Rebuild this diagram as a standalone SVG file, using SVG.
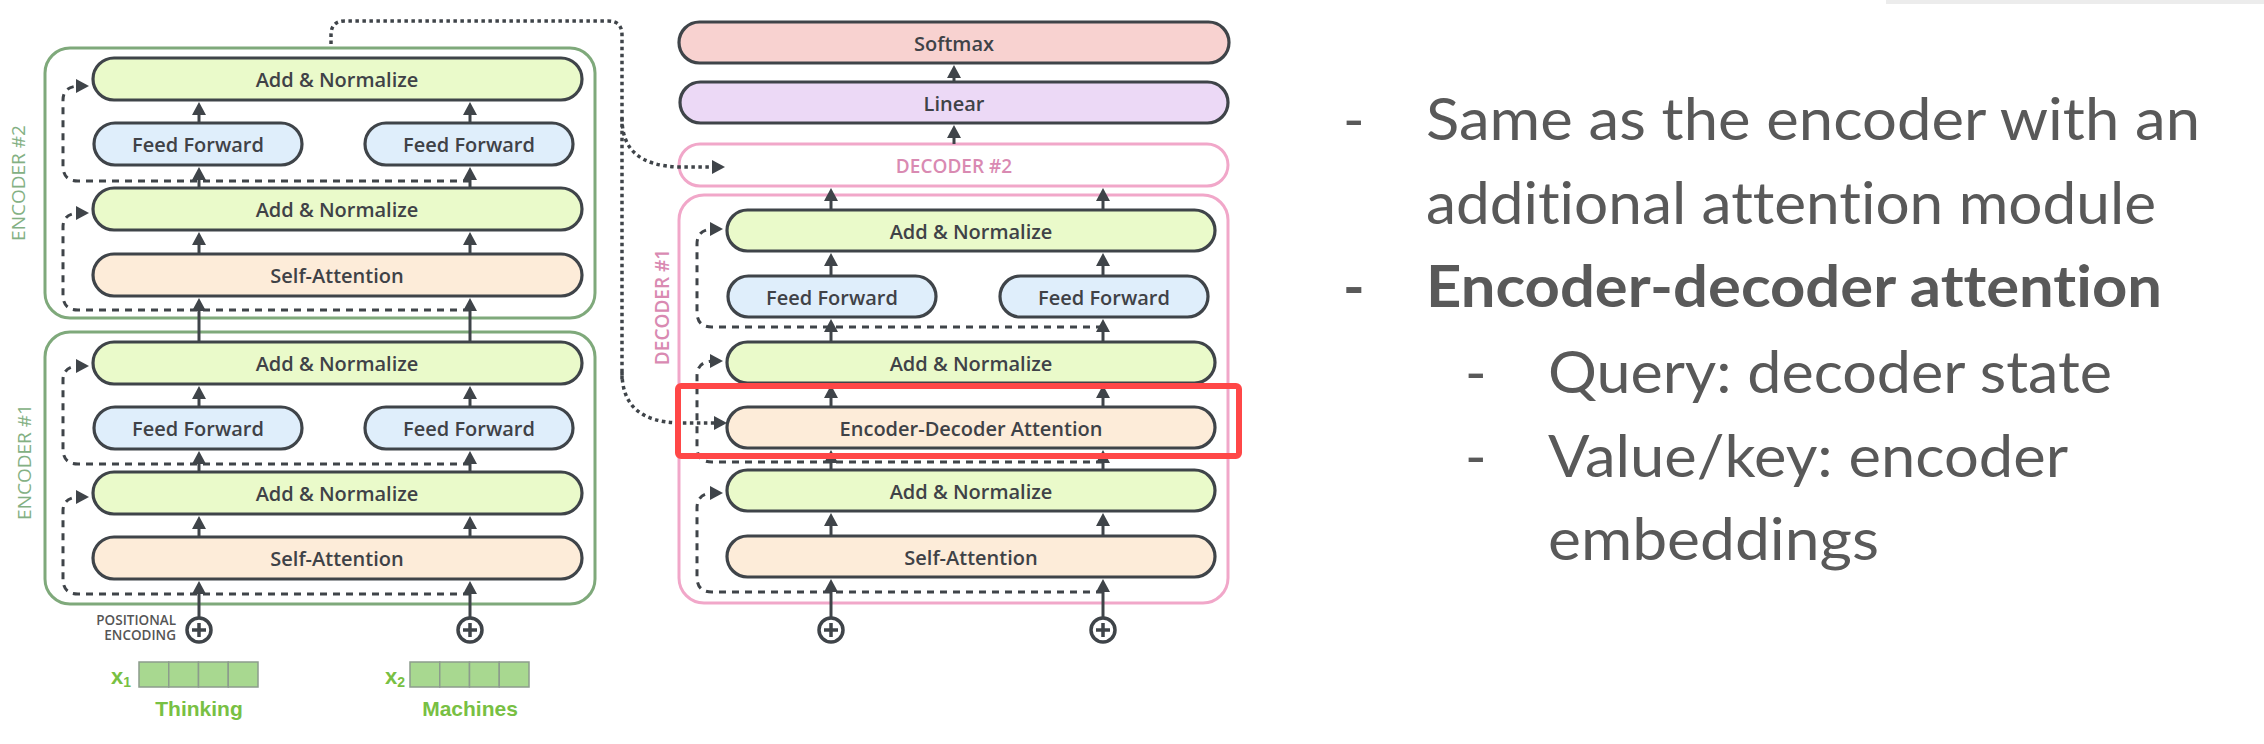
<svg xmlns="http://www.w3.org/2000/svg" width="2264" height="744" viewBox="0 0 2264 744">
<style>
.box{stroke:#3f4449;stroke-width:3.2}
.an{fill:#eafaca}
.ff{fill:#dfeefb}
.sa{fill:#fdecd9}
.sm{fill:#f8d2d0}
.ln{fill:#ecd9f6}
.lbl{font-family:"Open Sans","Noto Sans",sans-serif;font-size:20px;font-weight:600;fill:#3f4247;text-anchor:middle;dominant-baseline:central}
.encb{fill:none;stroke:#7fa97b;stroke-width:3}
.decb{fill:none;stroke:#f1a7c9;stroke-width:3}
.enct{font-family:"Open Sans","Noto Sans",sans-serif;font-size:19px;fill:#83b083;text-anchor:middle;dominant-baseline:central}
.dect{font-family:"Open Sans","Noto Sans",sans-serif;font-size:19px;font-weight:600;fill:#d98ab2;text-anchor:middle;dominant-baseline:central}
.sol{fill:none;stroke:#3f4449;stroke-width:3;marker-end:url(#ah)}
.dash{fill:none;stroke:#3f4449;stroke-width:3;stroke-dasharray:7 6;marker-end:url(#ah)}
.dot{fill:none;stroke:#3f4449;stroke-width:3.5;stroke-dasharray:3.5 3.5}
.dotA{fill:none;stroke:#3f4449;stroke-width:3.5;stroke-dasharray:3.5 3.5;marker-end:url(#ah)}
.plus circle{fill:#fff;stroke:#3f4449;stroke-width:3.5}
.plus path{stroke:#3f4449;stroke-width:3.5}
.cell{fill:#a8d890;stroke:#8c9c8c;stroke-width:1.5}
.word{font-family:"Liberation Sans",Arial,sans-serif;font-weight:bold;font-size:21px;fill:#78c043;text-anchor:middle}
.xl{font-family:"Liberation Sans",Arial,sans-serif;font-weight:bold;font-size:22px;fill:#78c043}
.pe{font-family:"Open Sans","Noto Sans",sans-serif;font-size:13.5px;font-weight:600;fill:#555;text-anchor:end}
.bt{font-family:Lato,"Open Sans",sans-serif;font-size:58px;fill:#595959;font-variant-ligatures:none;font-feature-settings:"liga" 0}
.bb{font-weight:bold}
</style>
<defs>
<marker id="ah" viewBox="0 0 14 14" refX="4" refY="7" markerWidth="14" markerHeight="14" markerUnits="userSpaceOnUse" orient="auto">
<path d="M0,0 L13,7 L0,14 z" fill="#3f4449"/>
</marker>
</defs>
<rect width="2264" height="744" fill="#fff"/>
<rect x="1886" y="0" width="378" height="4" fill="#ececec"/>

<g id="encoder2">
<rect class="encb" x="45" y="48" width="550" height="270" rx="25"/>
<text class="enct" transform="translate(18,183) rotate(-90)">ENCODER #2</text>
</g>
<g id="encoder1">
<rect class="encb" x="45" y="332" width="550" height="272" rx="25"/>
<text class="enct" transform="translate(24,462) rotate(-90)">ENCODER #1</text>
</g>
<g id="decoder2">
<rect class="decb" x="679" y="144" width="549" height="42" rx="21" fill="#fff"/>
<text class="dect" x="954" y="166">DECODER #2</text>
</g>
<g id="decoder1">
<rect class="decb" x="679" y="195" width="549" height="408" rx="25"/>
<text class="dect" transform="translate(662,307) rotate(-90)">DECODER #1</text>
</g>

<g id="connectors">
<path class="sol" d="M199 617 V590"/>
<path class="sol" d="M470 617 V590"/>
<path class="sol" d="M199 537 V525"/>
<path class="sol" d="M470 537 V525"/>
<path class="sol" d="M199 472 V460"/>
<path class="sol" d="M470 472 V460"/>
<path class="sol" d="M199 407 V395"/>
<path class="sol" d="M470 407 V395"/>
<path class="sol" d="M199 342 V307"/>
<path class="sol" d="M470 342 V307"/>
<path class="sol" d="M199 254 V241"/>
<path class="sol" d="M470 254 V241"/>
<path class="sol" d="M199 188 V176"/>
<path class="sol" d="M470 188 V176"/>
<path class="sol" d="M199 123 V111"/>
<path class="sol" d="M470 123 V111"/>
<path class="dash" d="M470 181 H78 Q63 181 63 166 V100 Q63 86 80 86"/>
<path class="dash" d="M470 310 H78 Q63 310 63 295 V227 Q63 213 80 213"/>
<path class="dash" d="M470 464 H78 Q63 464 63 449 V380 Q63 366 80 366"/>
<path class="dash" d="M470 594 H78 Q63 594 63 579 V511 Q63 497 80 497"/>
<path class="sol" d="M831 617 V588"/>
<path class="sol" d="M1103 617 V588"/>
<path class="sol" d="M831 536 V522"/>
<path class="sol" d="M1103 536 V522"/>
<path class="sol" d="M831 470 V459"/>
<path class="sol" d="M1103 470 V459"/>
<path class="sol" d="M831 407 V394"/>
<path class="sol" d="M1103 407 V394"/>
<path class="sol" d="M831 342 V328"/>
<path class="sol" d="M1103 342 V328"/>
<path class="sol" d="M831 276 V262"/>
<path class="sol" d="M1103 276 V262"/>
<path class="sol" d="M831 210 V197"/>
<path class="sol" d="M1103 210 V197"/>
<path class="sol" d="M954 144 V134"/>
<path class="sol" d="M954 82 V74"/>
<path class="dash" d="M1103 327 H712 Q697 327 697 312 V244 Q697 229 714 229"/>
<path class="dash" d="M1103 462 H712 Q697 462 697 447 V376 Q697 361 714 361"/>
<path class="dash" d="M1103 592 H712 Q697 592 697 577 V508 Q697 493 714 493"/>
<path class="dot" d="M331 44 V35 Q331 21 345 21 H608 Q622 21 622 35 V380"/>
<path class="dotA" d="M622 118 C622 150 640 166 680 167 H716"/>
<path class="dotA" d="M622 372 C622 405 640 422 680 423 H718"/>
</g>

<g id="enc2-addnorm-top"><rect class="box an" x="93" y="58" width="489" height="42" rx="21"/><text class="lbl" x="337" y="79">Add &amp; Normalize</text></g>
<g id="enc2-ff1"><rect class="box ff" x="94" y="123" width="208" height="42" rx="21"/><text class="lbl" x="198" y="144">Feed Forward</text></g>
<g id="enc2-ff2"><rect class="box ff" x="365" y="123" width="208" height="42" rx="21"/><text class="lbl" x="469" y="144">Feed Forward</text></g>
<g id="enc2-addnorm"><rect class="box an" x="93" y="188" width="489" height="42" rx="21"/><text class="lbl" x="337" y="209">Add &amp; Normalize</text></g>
<g id="enc2-selfattn"><rect class="box sa" x="93" y="254" width="489" height="42" rx="21"/><text class="lbl" x="337" y="275">Self-Attention</text></g>

<g id="enc1-addnorm-top"><rect class="box an" x="93" y="342" width="489" height="42" rx="21"/><text class="lbl" x="337" y="363">Add &amp; Normalize</text></g>
<g id="enc1-ff1"><rect class="box ff" x="94" y="407" width="208" height="42" rx="21"/><text class="lbl" x="198" y="428">Feed Forward</text></g>
<g id="enc1-ff2"><rect class="box ff" x="365" y="407" width="208" height="42" rx="21"/><text class="lbl" x="469" y="428">Feed Forward</text></g>
<g id="enc1-addnorm"><rect class="box an" x="93" y="472" width="489" height="42" rx="21"/><text class="lbl" x="337" y="493">Add &amp; Normalize</text></g>
<g id="enc1-selfattn"><rect class="box sa" x="93" y="537" width="489" height="42" rx="21"/><text class="lbl" x="337" y="558">Self-Attention</text></g>

<g id="softmax"><rect class="box sm" x="679" y="22" width="550" height="41" rx="20.5"/><text class="lbl" x="954" y="43">Softmax</text></g>
<g id="linear"><rect class="box ln" x="680" y="82" width="548" height="41" rx="20.5"/><text class="lbl" x="954" y="103">Linear</text></g>

<g id="dec1-addnorm-top"><rect class="box an" x="727" y="210" width="488" height="41" rx="20.5"/><text class="lbl" x="971" y="231">Add &amp; Normalize</text></g>
<g id="dec1-ff1"><rect class="box ff" x="728" y="276" width="208" height="41" rx="20.5"/><text class="lbl" x="832" y="297">Feed Forward</text></g>
<g id="dec1-ff2"><rect class="box ff" x="1000" y="276" width="208" height="41" rx="20.5"/><text class="lbl" x="1104" y="297">Feed Forward</text></g>
<g id="dec1-addnorm2"><rect class="box an" x="727" y="342" width="488" height="41" rx="20.5"/><text class="lbl" x="971" y="363">Add &amp; Normalize</text></g>
<g id="dec1-encdec"><rect class="box sa" x="727" y="407" width="488" height="41" rx="20.5"/><text class="lbl" x="971" y="428">Encoder-Decoder Attention</text></g>
<g id="dec1-addnorm3"><rect class="box an" x="727" y="470" width="488" height="41" rx="20.5"/><text class="lbl" x="971" y="491">Add &amp; Normalize</text></g>
<g id="dec1-selfattn"><rect class="box sa" x="727" y="536" width="488" height="41" rx="20.5"/><text class="lbl" x="971" y="557">Self-Attention</text></g>

<g id="highlight"><rect x="678" y="386" width="561" height="70" rx="3" fill="none" stroke="#ff4747" stroke-width="6"/></g>

<g id="pos-enc-1" class="plus"><circle cx="199" cy="630" r="12"/><path d="M192 630 H206 M199 623 V637"/></g>
<g id="pos-enc-2" class="plus"><circle cx="470" cy="630" r="12"/><path d="M463 630 H477 M470 623 V637"/></g>
<g id="pos-dec-1" class="plus"><circle cx="831" cy="630" r="12"/><path d="M824 630 H838 M831 623 V637"/></g>
<g id="pos-dec-2" class="plus"><circle cx="1103" cy="630" r="12"/><path d="M1096 630 H1110 M1103 623 V637"/></g>
<g id="pos-label"><text class="pe" x="176" y="625">POSITIONAL</text><text class="pe" x="176" y="640">ENCODING</text></g>

<g id="x1">
<text class="xl" x="111" y="684">x<tspan font-size="14" dy="3">1</tspan></text>
<rect class="cell" x="139" y="662" width="29.75" height="25"/><rect class="cell" x="168.75" y="662" width="29.75" height="25"/><rect class="cell" x="198.5" y="662" width="29.75" height="25"/><rect class="cell" x="228.25" y="662" width="29.75" height="25"/>
<text class="word" x="199" y="716">Thinking</text>
</g>
<g id="x2">
<text class="xl" x="385" y="684">x<tspan font-size="14" dy="3">2</tspan></text>
<rect class="cell" x="410" y="662" width="29.75" height="25"/><rect class="cell" x="439.75" y="662" width="29.75" height="25"/><rect class="cell" x="469.5" y="662" width="29.75" height="25"/><rect class="cell" x="499.25" y="662" width="29.75" height="25"/>
<text class="word" x="470" y="716">Machines</text>
</g>

<g id="bullets">
<text class="bt" x="1343" y="140">-</text>
<text class="bt" x="1426" y="140" textLength="774" lengthAdjust="spacingAndGlyphs">Same as the encoder with an</text>
<text class="bt" x="1426" y="224" textLength="730" lengthAdjust="spacingAndGlyphs">additional attention module</text>
<text class="bt bb" x="1343" y="307">-</text>
<text class="bt bb" x="1426" y="307" textLength="736" lengthAdjust="spacingAndGlyphs">Encoder-decoder attention</text>
<text class="bt" x="1465" y="393">-</text>
<text class="bt" x="1548" y="393" textLength="564" lengthAdjust="spacingAndGlyphs">Query: decoder state</text>
<text class="bt" x="1465" y="477">-</text>
<text class="bt" x="1548" y="477" textLength="520" lengthAdjust="spacingAndGlyphs">Value/key: encoder</text>
<text class="bt" x="1548" y="560" textLength="331" lengthAdjust="spacingAndGlyphs">embeddings</text>
</g>
</svg>
